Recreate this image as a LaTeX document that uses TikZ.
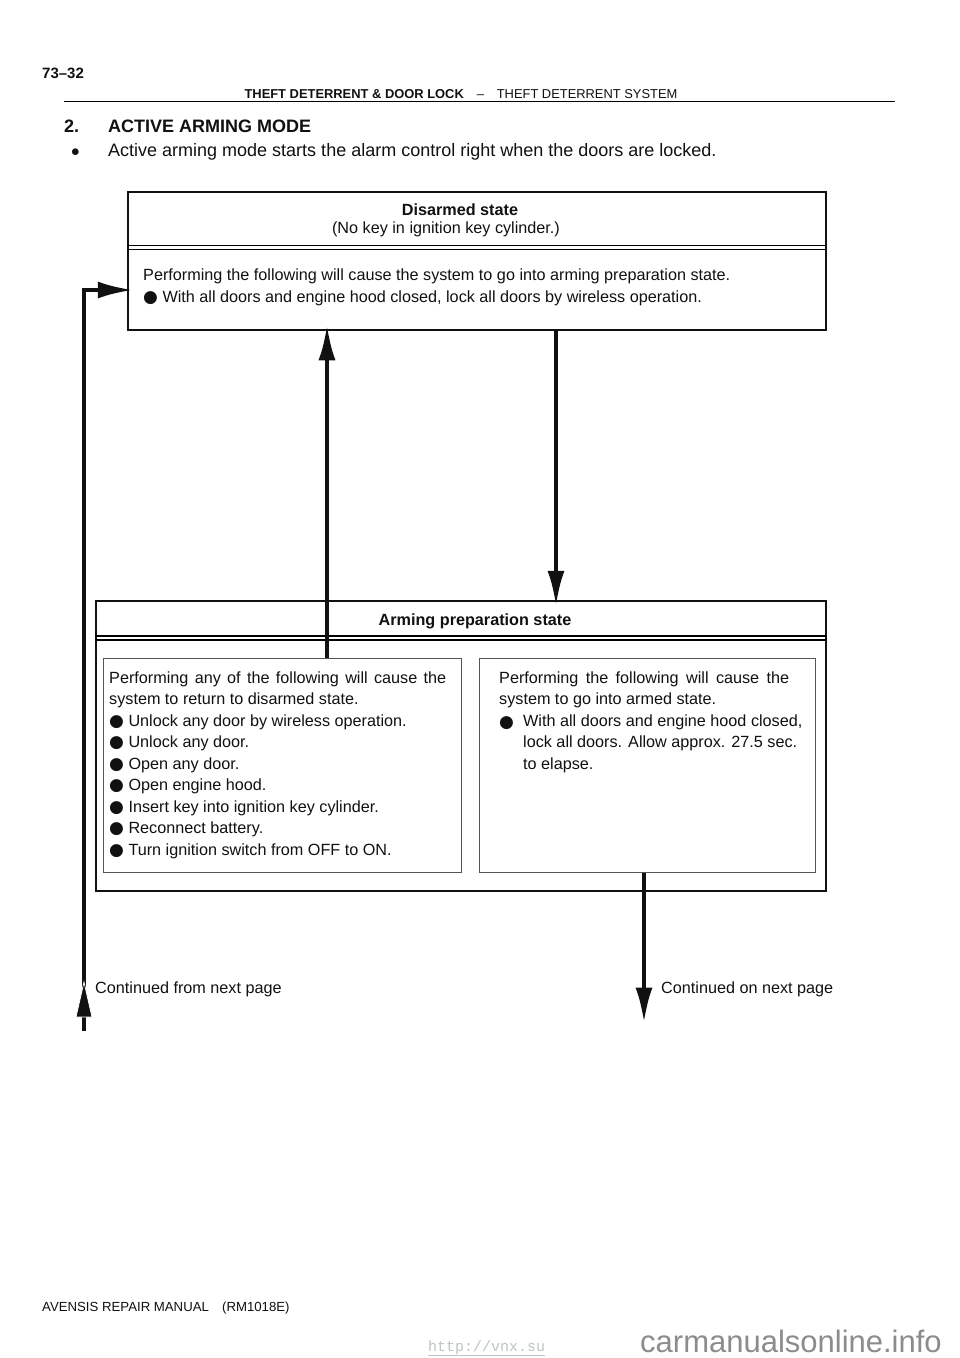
\documentclass[tikz,border=0pt]{standalone}
\usepackage{fontspec}
\setmainfont{Liberation Sans}
\newfontfamily\symfont{DejaVu Sans}
\newfontfamily\wmfont{Liberation Mono}
\usepackage{xcolor}
\usetikzlibrary{arrows.meta}
\definecolor{FontColor}{HTML}{111111}
\definecolor{LineGray}{HTML}{555555}
\definecolor{MarkGray}{HTML}{8C8C8C}
\definecolor{LinkGray}{HTML}{BAC6C2}
\newcommand\nodeds{Disarmed state}
\newcommand\nodedsn{(No key in ignition key cylinder.)}
\newcommand\nodeap{Arming preparation state}
\newcommand\nodecf{Continued from next page}
\newcommand\nodecn{Continued on next page}
\newcommand\bul{{\symfont\fontsize{17}{17}\selectfont\char"25CF}}
\tikzstyle{statebox} = [rectangle, draw=FontColor, line width=1.5pt, inner sep=0pt]
\tikzstyle{subbox} = [rectangle, draw=LineGray, line width=1pt, inner sep=0pt]
\tikzstyle{txt} = [inner sep=0pt, anchor=base west, text=FontColor, font=\fontsize{16.2}{21.5}\selectfont]
\tikzstyle{ctxt} = [txt, anchor=base]
\tikzstyle{flow} = [line width=4.5pt, draw=FontColor, shorten >=-6.5pt]
\tikzset{>={Latex[length=36pt,width=17pt]}}

\begin{document}
\begin{tikzpicture}[x=1pt, y=-1pt]
\useasboundingbox[fill=white] (0,0) rectangle (960,1358);
% page head
\node[txt, font=\bfseries\fontsize{15}{15}\selectfont] (pg) at (42,78) {73--32};
\node[ctxt, font=\fontsize{12.9}{12.9}\selectfont] (hd) at (461,98) {\textbf{THEFT DETERRENT \& DOOR LOCK}\quad--\quad THEFT DETERRENT SYSTEM};
\draw[line width=1.6pt] (64,101.5) -- (895,101.5);
\node[txt, font=\bfseries\fontsize{18}{18}\selectfont] (no) at (64,132) {2.};
\node[txt, font=\bfseries\fontsize{18}{18}\selectfont] (ttl) at (108,132) {ACTIVE ARMING MODE};
\node[txt, font=\fontsize{16}{16}\selectfont] (dot) at (71,156) {$\bullet$};
\node[txt, font=\fontsize{18}{18}\selectfont] (intro) at (108,156) {Active arming mode starts the alarm control right when the doors are locked.};
% boxes
\node[statebox, minimum width=698, minimum height=138] (ds) at (477,261) {};
\node[statebox, minimum width=730, minimum height=290] (ap) at (461,746) {};
\node[subbox, minimum width=358, minimum height=214] (lb) at (282,765) {};
\node[subbox, minimum width=336, minimum height=214] (rb) at (647,765) {};
\draw[line width=1.2pt] (ds.west |- 0,245.5) -- (ds.east |- 0,245.5);
\draw[line width=1.2pt] (ds.west |- 0,249.5) -- (ds.east |- 0,249.5);
\draw[line width=1.2pt] (ap.west |- 0,636) -- (ap.east |- 0,636);
\draw[line width=1.2pt] (ap.west |- 0,640) -- (ap.east |- 0,640);
% disarmed state
\node[ctxt, font=\bfseries\fontsize{16.2}{16}\selectfont] (dst) at (460,215) {\nodeds};
\node[ctxt] (dsn) at (446,233) {\nodedsn};
\node[txt] (dsa) at (143,280) {Performing the following will cause the system to go into arming preparation state.};
\node[txt] (dsb) at (143,302) {\bul\ With all doors and engine hood closed, lock all doors by wireless operation.};
% arming preparation state
\node[ctxt, font=\bfseries\fontsize{16.2}{16}\selectfont] (apt) at (475,625) {\nodeap};
\node[txt, anchor=north west, align=left] (lt) at (109,671.5) {\makebox[337pt][s]{Performing any of the following will cause the}\\
system to return to disarmed state.\\
\bul\ Unlock any door by wireless operation.\\
\bul\ Unlock any door.\\
\bul\ Open any door.\\
\bul\ Open engine hood.\\
\bul\ Insert key into ignition key cylinder.\\
\bul\ Reconnect battery.\\
\bul\ Turn ignition switch from OFF to ON.};
\node[txt, anchor=north west, align=left] (rt) at (499,671.5) {\makebox[290pt][s]{Performing the following will cause the}\\
system to go into armed state.};
\node[txt] (rbul) at (499,727) {\bul};
\node[txt, anchor=north west, align=left] (ri) at (523,714.5) {With all doors and engine hood closed,\\
lock all doors. Allow approx. 27.5 sec.\\
to elapse.};
% connectors
\coordinate (nextp) at (644,1017);
\coordinate (prevp) at (84,1031);
\coordinate (uptip) at (84,982);
\draw[flow, ->] (lb.north -| 327,0) -- (ds.south -| 327,0);
\draw[flow, ->] (ds.south -| 556,0) -- (ap.north -| 556,0);
\draw[flow, ->] (rb.south -| 644,0) -- (nextp);
\draw[flow, ->] (prevp) |- (ds.west |- 0,290);
\draw[fill=FontColor, draw=white, line width=0.8pt] (uptip) -- ++(-8,35) -- ++(16,0) -- cycle;
\node[txt] (cf) at (95,993) {\nodecf};
\node[txt] (cn) at (661,993) {\nodecn};
% page foot
\node[txt, font=\fontsize{13.2}{13.2}\selectfont] (ft) at (42,1311) {AVENSIS REPAIR MANUAL\quad(RM1018E)};
\node[txt, text=LinkGray, font=\wmfont\fontsize{15}{15}\selectfont] (wm) at (428,1351) {\underline{http://vnx.su}};
\node[txt, text=MarkGray, font=\fontsize{31}{31}\selectfont] (cm) at (640,1352) {carmanualsonline.info};
\end{tikzpicture}
\end{document}
